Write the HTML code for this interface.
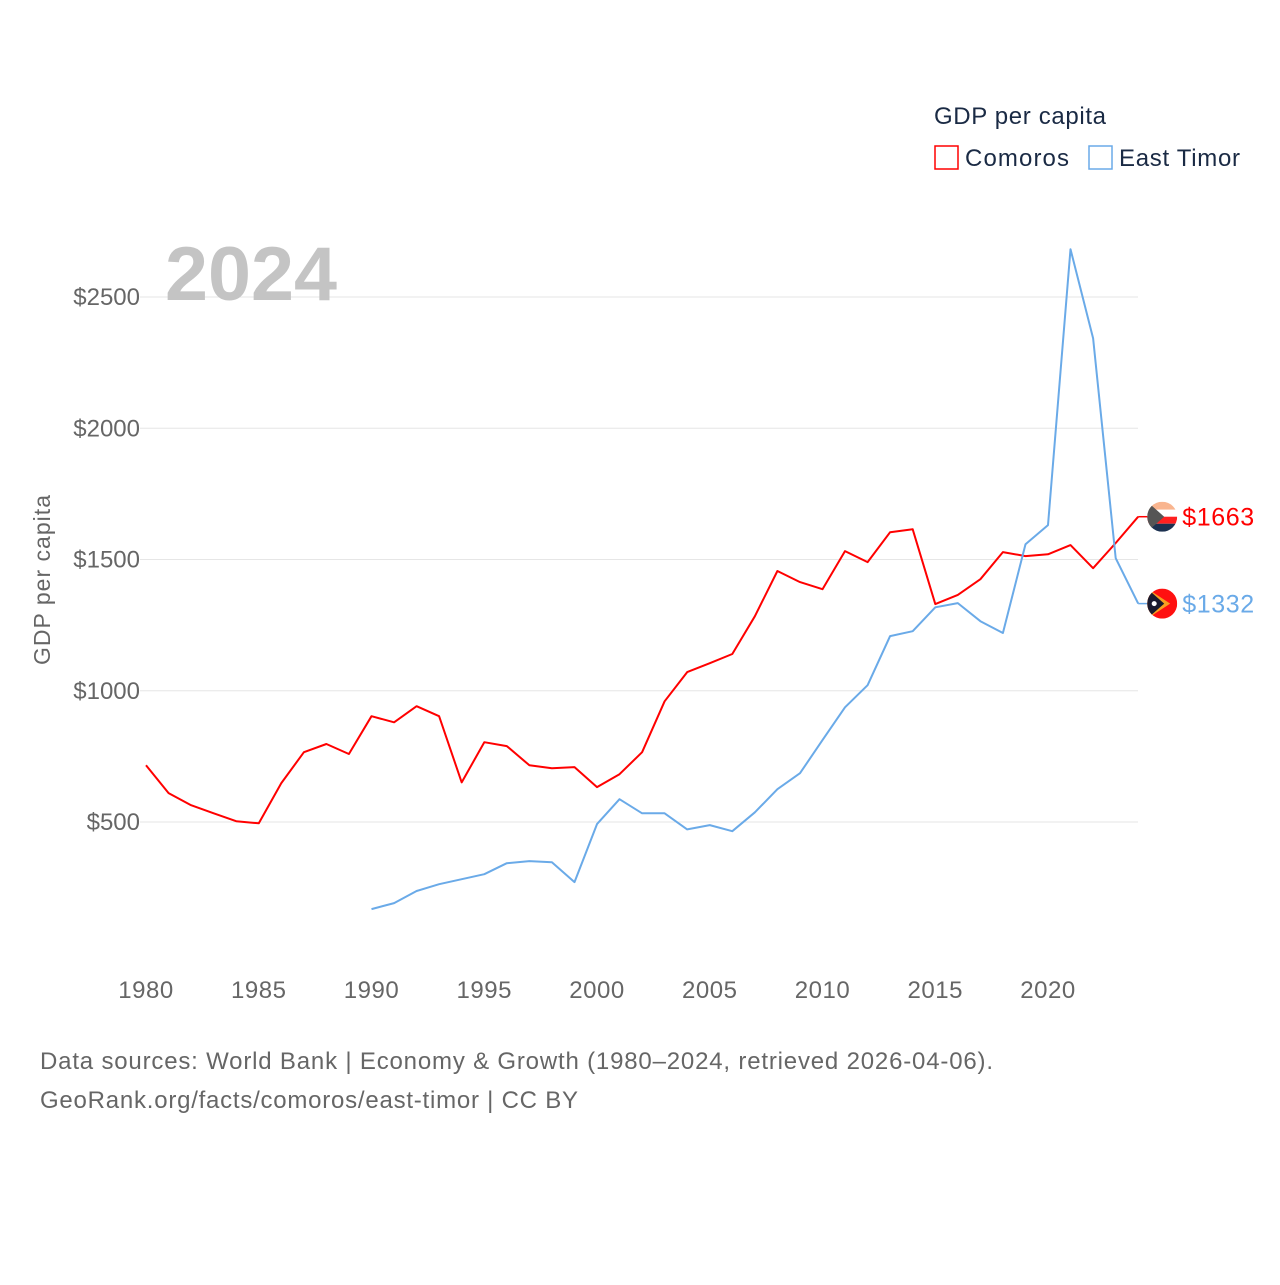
<!DOCTYPE html>
<html><head><meta charset="utf-8"><style>
body{margin:0;background:#fff;font-family:"Liberation Sans",sans-serif;}
svg text{font-family:"Liberation Sans",sans-serif;}
</style></head><body>
<svg id="chart" width="1280" height="1280" viewBox="0 0 1280 1280">
<g id="grid"></g>
<g id="yt"></g>
<g id="xt"></g>
<text x="165" y="300" font-size="76" font-weight="bold" fill="#c4c4c4" textLength="172" lengthAdjust="spacingAndGlyphs">2024</text>
<text transform="translate(50,580) rotate(-90)" text-anchor="middle" font-size="23" fill="#666" textLength="170">GDP per capita</text>
<g id="series"></g>
<g>
<text x="934" y="124" font-size="24" fill="#1a2a44" textLength="172">GDP per capita</text>
<g><rect x="935" y="146" width="23" height="23" fill="none" stroke="#ff0000" stroke-width="1.5"/><text x="965" y="166" font-size="24" fill="#1a2a44" textLength="104">Comoros</text></g>
<g><rect x="1089" y="146" width="23" height="23" fill="none" stroke="#6aaae8" stroke-width="1.5"/><text x="1119" y="166" font-size="24" fill="#1a2a44" textLength="121">East Timor</text></g>
</g>
<g id="ends"></g>
<text x="40" y="1069" font-size="24" fill="#666" textLength="953">Data sources: World Bank | Economy &amp; Growth (1980–2024, retrieved 2026-04-06).</text>
<text x="40" y="1108" font-size="24" fill="#666" textLength="538">GeoRank.org/facts/comoros/east-timor | CC BY</text>
</svg>
<script>
const comorosYears=[1980,1981,1982,1983,1984,1985,1986,1987,1988,1989,1990,1991,1992,1993,1994,1995,1996,1997,1998,1999,2000,2001,2002,2003,2004,2005,2006,2007,2008,2009,2010,2011,2012,2013,2014,2015,2016,2017,2018,2019,2020,2021,2022,2023,2024];
const comorosValues=[716,610,564,533,503,495,648,766,797,759,903,880,941,903,651,804,789,716,705,709,633,682,766,960,1071,1105,1140,1284,1456,1414,1387,1532,1490,1604,1615,1330,1365,1425,1528,1513,1520,1555,1467,1563,1663];
const timorYears=[1990,1991,1992,1993,1994,1995,1996,1997,1998,1999,2000,2001,2002,2003,2004,2005,2006,2007,2008,2009,2010,2011,2012,2013,2014,2015,2016,2017,2018,2019,2020,2021,2022,2023,2024];
const timorValues=[168,191,237,263,282,301,343,351,347,271,492,587,533,533,472,488,465,537,625,686,812,937,1021,1208,1227,1318,1334,1265,1220,1558,1631,2682,2343,1505,1332];
const yTicks=[500,1000,1500,2000,2500];
const xTicks=[1980,1985,1990,1995,2000,2005,2010,2015,2020];
const NS="http://www.w3.org/2000/svg";
function xs(y){return 146+(y-1980)*(1048-146)/40;}
function ys(v){return 953.25-v*0.2625;}
function mk(t,a,p){const e=document.createElementNS(NS,t);for(const k in a)e.setAttribute(k,a[k]);p.appendChild(e);return e;}
const grid=document.getElementById('grid'),yt=document.getElementById('yt'),xt=document.getElementById('xt');
yTicks.forEach(v=>{
 const l=mk('line',{x1:140,x2:1138,y1:ys(v),y2:ys(v),stroke:'#e6e6e6','stroke-width':1},grid);
 
 
 const t=mk('text',{x:140,y:ys(v)+8,'text-anchor':'end','font-size':24,fill:'#666'},yt);t.textContent='$'+v;
 
 
});
xTicks.forEach(y=>{
 const t=mk('text',{x:xs(y),y:998,'text-anchor':'middle','font-size':24,fill:'#666','letter-spacing':'0.5'},xt);t.textContent=y;
 
 
});
const s=document.getElementById('series');
function line(yrs,vals,col,name){
 const d=yrs.map((y,i)=>(i?'L':'M')+xs(y).toFixed(1)+','+ys(vals[i]).toFixed(1)).join(' ');
 const p=mk('path',{d:d,fill:'none',stroke:col,'stroke-width':2,'stroke-linejoin':'round'},s);
 
 
}
line(comorosYears,comorosValues,'#ff0000','comoros-line');
line(timorYears,timorValues,'#6aaae8','east-timor-line');
const ends=document.getElementById('ends');
function endLabel(vals,col,name,flag){
 const v=vals[vals.length-1],y=ys(v),x=xs(2024);
 const g=mk('g',{},ends);
 
 
 mk('line',{x1:x,x2:x+10,y1:y,y2:y,stroke:col,'stroke-width':1.5},g);
 const cx=x+24;
 const clipId='c'+name;
 const cp=mk('clipPath',{id:clipId},g);mk('circle',{cx:cx,cy:y,r:15},cp);
 const fg=mk('g',{'clip-path':'url(#'+clipId+')'},g);
 if(flag==='km'){
  mk('rect',{x:cx-15,y:y-15,width:30,height:8,fill:'#f9b58f'},fg);
  mk('rect',{x:cx-15,y:y-7,width:30,height:7,fill:'#fff'},fg);
  mk('rect',{x:cx-15,y:y,width:30,height:7,fill:'#ff2020'},fg);
  mk('rect',{x:cx-15,y:y+7,width:30,height:8,fill:'#1c3150'},fg);
  mk('polygon',{points:(cx-15)+','+(y-15)+' '+(cx+2)+','+y+' '+(cx-15)+','+(y+15),fill:'#555'},fg);
 }else{
  mk('rect',{x:cx-15,y:y-15,width:30,height:30,fill:'#ff1010'},fg);
  mk('polygon',{points:(cx-15)+','+(y-15)+' '+(cx+8)+','+y+' '+(cx-15)+','+(y+15),fill:'#f7a020'},fg);
  mk('polygon',{points:(cx-15)+','+(y-15)+' '+(cx+2)+','+y+' '+(cx-15)+','+(y+15),fill:'#1a1a2e'},fg);
  mk('circle',{cx:cx-8,cy:y,r:2.5,fill:'#fff'},fg);
 }
 const t=mk('text',{x:cx+20,y:y+9,'font-size':25,fill:col,textLength:72},g);t.textContent='$'+v;
}
endLabel(comorosValues,'#ff0000','comoros-end-label','km');
endLabel(timorValues,'#6aaae8','east-timor-end-label','tl');
</script>
</body></html>
